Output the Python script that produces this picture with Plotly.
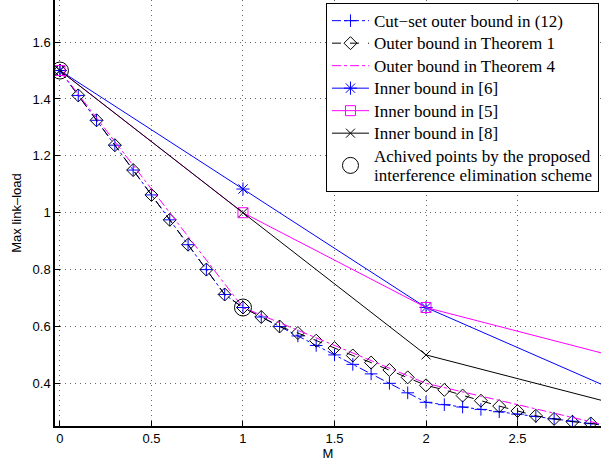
import plotly.graph_objects as go

M_fine = [0, 0.1, 0.2, 0.3, 0.4, 0.5, 0.6, 0.7, 0.8, 0.9, 1.0,
          1.1, 1.2, 1.3, 1.4, 1.5, 1.6, 1.7, 1.8, 1.9, 2.0,
          2.1, 2.2, 2.3, 2.4, 2.5, 2.6, 2.7, 2.8, 2.9, 3.0]
cutset = [1.5, 1.4125, 1.325, 1.2375, 1.15, 1.0625, 0.975, 0.8875, 0.8, 0.7125, 0.6667,
          0.6333, 0.6, 0.5667, 0.5333, 0.5, 0.4667, 0.4333, 0.4, 0.3667, 0.3333,
          0.325, 0.3167, 0.3083, 0.3, 0.2917, 0.2833, 0.275, 0.2667, 0.2583, 0.25]
thm1 = [1.5, 1.4125, 1.325, 1.2375, 1.15, 1.0625, 0.975, 0.8875, 0.8, 0.7125, 0.6667,
        0.6333, 0.6, 0.577, 0.550, 0.524, 0.498, 0.473, 0.447, 0.421, 0.393,
        0.377, 0.357, 0.339, 0.320, 0.303, 0.286, 0.275, 0.265, 0.259, 0.25]
M_int = [0, 1, 2, 3]
thm4 = [1.5, 0.6667, 0.4, 0.25]
inner6 = [1.5, 1.0833, 0.6667, 0.385]
inner5 = [1.5, 1.0, 0.6667, 0.5]
inner8 = [1.5, 1.0, 0.5, 0.3333]
ach_M = [0, 1]
ach_val = [1.5, 0.6667]

x_ticks = [0, 0.5, 1, 1.5, 2, 2.5]
x_labels = ["0", "0.5", "1", "1.5", "2", "2.5"]
y_ticks = [0.4, 0.6, 0.8, 1.0, 1.2, 1.4, 1.6]
y_labels = ["0.4", "0.6", "0.8", "1", "1.2", "1.4", "1.6"]


def big(t):
    return "<br>".join("<span style='font-size:17px'>%s</span>" % s for s in t.split("\n"))


fig = go.Figure()
fig.add_trace(go.Scatter(x=M_fine, y=cutset, mode="lines+markers",
                         name=big("Cut\u2212set outer bound in (12)"),
                         line=dict(color="#0000FF", width=1, dash="dashdot"),
                         marker=dict(symbol="cross-thin-open", size=9, color="#0000FF",
                                     line=dict(color="#0000FF", width=1))))
fig.add_trace(go.Scatter(x=M_fine, y=thm1, mode="lines+markers",
                         name=big("Outer bound in Theorem 1"),
                         line=dict(color="black", width=1, dash="dash"),
                         marker=dict(symbol="diamond-open", size=10, color="black",
                                     line=dict(color="black", width=1))))
fig.add_trace(go.Scatter(x=M_int, y=thm4, mode="lines",
                         name=big("Outer bound in Theorem 4"),
                         line=dict(color="#FF00FF", width=1, dash="dashdot")))
fig.add_trace(go.Scatter(x=M_int, y=inner6, mode="lines+markers",
                         name=big("Inner bound in [6]"),
                         line=dict(color="#0000FF", width=1),
                         marker=dict(symbol="asterisk-open", size=11, color="#0000FF",
                                     line=dict(color="#0000FF", width=1))))
fig.add_trace(go.Scatter(x=M_int, y=inner5, mode="lines+markers",
                         name=big("Inner bound in [5]"),
                         line=dict(color="#FF00FF", width=1),
                         marker=dict(symbol="square-open", size=10, color="#FF00FF",
                                     line=dict(color="#FF00FF", width=1))))
fig.add_trace(go.Scatter(x=M_int, y=inner8, mode="lines+markers",
                         name=big("Inner bound in [8]"),
                         line=dict(color="black", width=1),
                         marker=dict(symbol="x-thin-open", size=9, color="black",
                                     line=dict(color="black", width=1))))
fig.add_trace(go.Scatter(x=ach_M, y=ach_val, mode="markers",
                         name=big("Achived points by the proposed\ninterference elimination scheme"),
                         marker=dict(symbol="circle-open", size=17, color="black",
                                     line=dict(color="black", width=1))))

fig.update_layout(
    width=601, height=470,
    margin=dict(l=55, r=0, t=0, b=44, pad=0),
    paper_bgcolor="white", plot_bgcolor="white",
    font=dict(family="Liberation Sans, Arial, sans-serif", size=13, color="black"),
    showlegend=True,
    legend=dict(x=0.9963, y=0.992, xanchor="right", yanchor="top",
                bgcolor="white", bordercolor="black", borderwidth=1,
                font=dict(family="Liberation Serif, Times New Roman, serif", size=15, color="black"),
                tracegroupgap=0, itemwidth=37),
)
fig.update_xaxes(range=[-0.027, 2.956], tickvals=x_ticks, ticktext=x_labels,
                 automargin=False,
                 showgrid=True, gridcolor="#666666", griddash="1px,4px", gridwidth=1,
                 showline=True, linecolor="black", linewidth=1.5, mirror=False,
                 ticks="inside", ticklen=5, tickcolor="black", zeroline=False,
                 title=dict(text="M", standoff=2, font=dict(size=13)))
fig.update_yaxes(range=[0.25, 1.748], tickvals=y_ticks, ticktext=y_labels,
                 automargin=False,
                 showgrid=True, gridcolor="#666666", griddash="1px,4px", gridwidth=1,
                 showline=True, linecolor="black", linewidth=1.5, mirror=False,
                 ticks="inside", ticklen=5, tickcolor="black", zeroline=False,
                 title=dict(text="Max link\u2013load", standoff=8, font=dict(size=13)))

fig.write_html("out.html", config={"displayModeBar": False},
               post_script="document.body.style.margin='0';document.body.style.overflow='hidden';")
